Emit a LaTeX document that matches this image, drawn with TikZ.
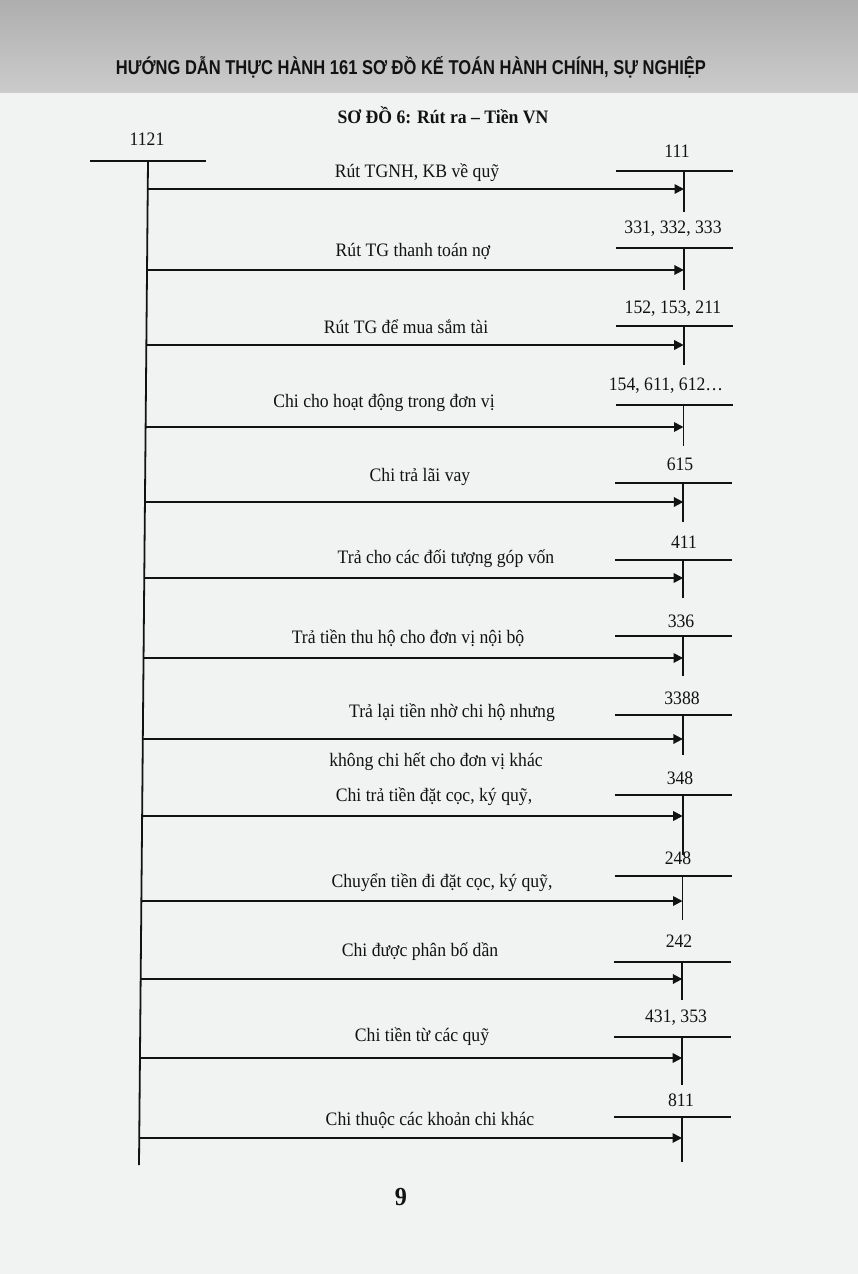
\documentclass[tikz,border=0pt]{standalone}
\usepackage{fontspec}
\setmainfont{Liberation Serif}[FakeStretch=0.93]
\newfontfamily\headfont{Liberation Sans}
\usetikzlibrary{arrows.meta,calc}
\definecolor{ink}{HTML}{121212}
\definecolor{pagebg}{HTML}{F1F2F2}
\definecolor{bandtop}{HTML}{AEAEAE}
\definecolor{bandbot}{HTML}{CBCBCB}
\newcommand{\txtfont}{\fontsize{19}{22}\selectfont}
\tikzset{
  tline/.style={line width=1.8pt, draw=ink},
  arr/.style={line width=1.8pt, draw=ink, -{Triangle[length=9.5pt,width=9.5pt]}},
  lbl/.style={inner sep=0pt, text=ink, font=\txtfont},
  acct/.style={inner sep=0pt, text=ink, font=\txtfont},
}
\begin{document}
\begin{tikzpicture}[x=1pt,y=-1pt]
\useasboundingbox (0,0) rectangle (858,1274);
\fill[pagebg] (0,0) rectangle (858,1274);
\shade[top color=bandtop, bottom color=bandbot] (0,0) rectangle (858,92);
\node[inner sep=0pt, text=ink] (head) at (411,67)
  {\resizebox{590pt}{\height}{\headfont\bfseries\fontsize{20}{24}\selectfont HƯỚNG DẪN THỰC HÀNH 161 SƠ ĐỒ KẾ TOÁN HÀNH CHÍNH, SỰ NGHIỆP}};
\node[lbl, font=\txtfont\bfseries] (title) at (443,115) {SƠ ĐỒ 6: Rút ra – Tiền VN};
% left account
\node[acct] (a1121) at (147,139) {1121};
\coordinate (Lh1) at (90,161);
\coordinate (Lh2) at (206,161);
\draw[tline] (Lh1) -- (Lh2);
\coordinate (Ltop) at (148,161);
\coordinate (Lbot) at (139,1165);
\draw[tline] (Ltop) -- (Lbot);
% entries
\foreach \i/\acc/\ax/\ay/\hy/\ya/\vb/\txt/\tx/\ty in {
  1/{111}/677/151/171/189/212/{Rút TGNH, KB về quỹ}/417/173,
  2/{331, 332, 333}/673/229/248/270/290/{Rút TG thanh toán nợ}/413/251,
  3/{152, 153, 211}/673/309/326/345/365/{Rút TG để mua sắm tài}/406/327,
  4/{154, 611, 612…}/666/386/405/427/446/{Chi cho hoạt động trong đơn vị}/384/403,
  5/{615}/680/464/483/502/522/{Chi trả lãi vay}/420/477,
  6/{411}/684/542/560/578/598/{Trả cho các đối tượng góp vốn}/446/559,
  7/{336}/681/621/636/658/676/{Trả tiền thu hộ cho đơn vị nội bộ}/408/638,
  8/{3388}/682/698/715/739/755/{Trả lại tiền nhờ chi hộ nhưng}/452/713,
  9/{348}/680/778/795/816/855/{Chi trả tiền đặt cọc, ký quỹ,}/434/797,
  10/{248}/678/858/876/901/920/{Chuyển tiền đi đặt cọc, ký quỹ,}/442/883,
  11/{242}/679/941/962/979/1000/{Chi được phân bố dần}/420/952,
  12/{431, 353}/676/1018/1037/1058/1085/{Chi tiền từ các quỹ}/422/1037,
  13/{811}/681/1100/1117/1138/1162/{Chi thuộc các khoản chi khác}/430/1120}
{
  \pgfmathsetmacro{\rx}{684-2*(\hy-171)/946}
  \pgfmathsetmacro{\hl}{\rx-68}
  \pgfmathsetmacro{\hr}{\rx+49}
  \pgfmathsetmacro{\fr}{(\ya-161)/1004}
  \node[acct] (acc\i) at (\ax,\ay) {\acc};
  \node[lbl] (txt\i) at (\tx,\ty) {\txt};
  \coordinate (h\i a) at (\hl,\hy);
  \coordinate (h\i b) at (\hr,\hy);
  \coordinate (v\i a) at (\rx,\hy);
  \coordinate (v\i b) at (\rx,\vb);
  \coordinate (s\i) at ($(Ltop)!\fr!(Lbot)$);
  \coordinate (e\i) at (\rx,\ya);
  \draw[tline] (h\i a) -- (h\i b);
  \draw[tline] (v\i a) -- (v\i b);
  \draw[arr] (s\i) -- (e\i);
}
\node[lbl] (txt8b) at (436,762) {không chi hết cho đơn vị khác};
\node[inner sep=0pt, text=ink, font=\fontsize{26}{28}\selectfont\bfseries] (pnum) at (401,1197) {9};
\end{tikzpicture}
\end{document}
